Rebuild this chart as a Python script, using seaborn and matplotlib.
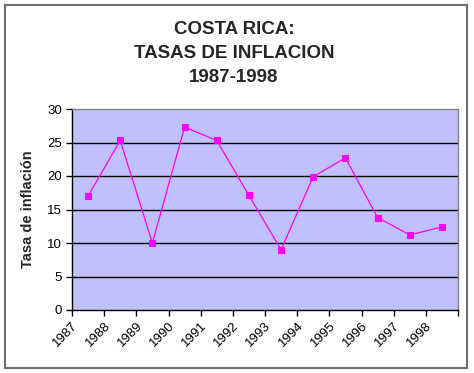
import matplotlib
matplotlib.use("Agg")
import matplotlib.pyplot as plt
import matplotlib.patches as mpatches
import matplotlib.transforms as mtransforms
import numpy as np
import pandas as pd
import seaborn as sns

years = ["1987", "1988", "1989", "1990", "1991", "1992", "1993", "1994", "1995", "1996", "1997", "1998"]
inflation = [17.0, 25.3, 10.0, 27.3, 25.3, 17.1, 9.0, 19.9, 22.7, 13.8, 11.2, 12.4]
yticks = [0, 5, 10, 15, 20, 25, 30]

sns.set_theme(style="white")
plt.rcParams["font.family"] = ["Liberation Sans", "DejaVu Sans"]

df = pd.DataFrame({"pos": np.arange(len(years)) + 0.5, "rate": inflation, "year": years})

fig = plt.figure(figsize=(4.74, 3.73), dpi=100)
ax = fig.add_axes([72 / 474, 63 / 373, 386 / 474, 201 / 373])
ax.set_facecolor("#C0C0FF")

for v in yticks[1:-1]:
    ax.axhline(v, color="black", lw=1.0, zorder=1)

sns.lineplot(data=df, x="pos", y="rate", ax=ax, color="#FF00FF", lw=0.9,
             marker="s", markersize=4.5, markeredgecolor="#FF00FF",
             markerfacecolor="#FF00FF", zorder=3)

ax.set_xlim(0, len(years))
ax.set_ylim(0, 30)
ax.set_yticks(yticks)
ax.set_yticklabels([str(t) for t in yticks], fontsize=9.5)
ax.set_xticks(np.arange(len(years) + 1))
ax.set_xticklabels(years + [""], fontsize=9.5, rotation=45, ha="right",
                   rotation_mode="anchor")
offset = mtransforms.ScaledTranslation(9 / 100, -2 / 100, fig.dpi_scale_trans)
for lab in ax.get_xticklabels():
    lab.set_transform(lab.get_transform() + offset)

ax.tick_params(axis="both", which="both", direction="out", length=4, width=1,
               color="black", bottom=True, left=True, pad=3, labelcolor="black")
ax.set_xlabel("")
ax.set_ylabel("Tasa de inflación", fontsize=10.5, fontweight="bold", labelpad=9)

for side in ["left", "bottom"]:
    ax.spines[side].set_color("black")
    ax.spines[side].set_linewidth(1)
for side in ["top", "right"]:
    ax.spines[side].set_color("#808080")
    ax.spines[side].set_linewidth(1)
    ax.spines[side].set_visible(True)

fig.text(234 / 474, 1 - 30 / 373, "COSTA RICA:", ha="center", va="center",
         fontsize=13.5, fontweight="bold")
fig.text(234 / 474, 1 - 53 / 373, "TASAS DE INFLACION", ha="center", va="center",
         fontsize=13.5, fontweight="bold")
fig.text(234 / 474, 1 - 77 / 373, "1987-1998", ha="center", va="center",
         fontsize=13.5, fontweight="bold")

border = mpatches.Rectangle((5 / 474, 5 / 373), 462 / 474, 363 / 373,
                            transform=fig.transFigure, fill=False,
                            edgecolor="#707070", lw=1.5)
fig.patches.append(border)

fig.savefig("out.png", dpi=100)
